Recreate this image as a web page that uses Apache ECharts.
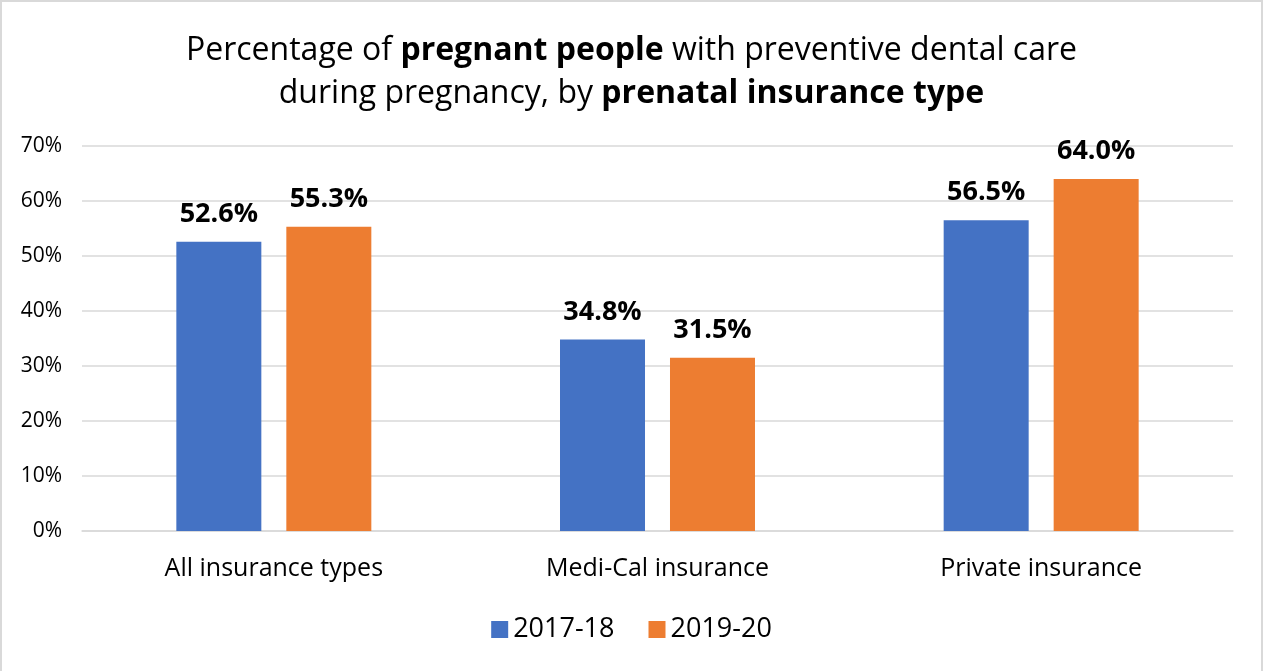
<!DOCTYPE html>
<html>
<head>
<meta charset="utf-8">
<script src="https://cdn.jsdelivr.net/npm/echarts@6/dist/echarts.min.js"></script>
<style>
html,body{margin:0;padding:0;background:#fff;}
#wrap{position:absolute;left:0;top:0;width:1259px;height:680px;border:2px solid #d9d9d9;box-sizing:content-box;}
#chart{width:1259px;height:680px;}
</style>
</head>
<body>
<div id="wrap"><div id="chart"></div></div>
<script>
const categories = ['All insurance types', 'Medi-Cal insurance', 'Private insurance'];
const seriesNames = ['2017-18', '2019-20'];
const values2017 = [52.6, 34.8, 56.5];
const values2019 = [55.3, 31.5, 64.0];
const yTicks = [0, 10, 20, 30, 40, 50, 60, 70];
const colors = ['#4472c4', '#ed7d31'];

const chart = echarts.init(document.getElementById('chart'), null, {renderer: 'canvas'});
const font = '"Open Sans", "Noto Sans", sans-serif';
const labelCfg = {
  show: true, position: 'top', distance: 14,
  formatter: p => p.value.toFixed(1) + '%',
  fontFamily: font, fontWeight: 'bold', fontSize: 27, color: '#000'
};
chart.setOption({
  animation: false,
  textStyle: {fontFamily: font},
  title: {
    text: 'Percentage of {b|pregnant people} with preventive dental care\nduring pregnancy, by {b|prenatal insurance type}',
    left: 'center', top: 22,
    textStyle: {
      fontFamily: font, fontSize: 32, fontWeight: 'normal', color: '#000', lineHeight: 43,
      rich: {b: {fontFamily: font, fontSize: 32, fontWeight: 'bold', color: '#000', lineHeight: 43}}
    }
  },
  legend: {
    data: seriesNames, bottom: 680 - 646, left: 'center',
    itemWidth: 17, itemHeight: 17, itemGap: 34, icon: 'rect',
    textStyle: {fontFamily: font, fontSize: 27, color: '#000'}
  },
  grid: {left: 80, right: 28, top: 144, bottom: 680 - 529, containLabel: false},
  xAxis: {
    type: 'category', data: categories,
    axisLine: {show: true, lineStyle: {color: '#d9d9d9', width: 1.5}},
    axisTick: {show: false},
    axisLabel: {fontFamily: font, fontSize: 25, color: '#000', margin: 25}
  },
  yAxis: {
    type: 'value', min: yTicks[0], max: yTicks[yTicks.length - 1], interval: 10,
    axisLine: {show: false}, axisTick: {show: false},
    splitLine: {lineStyle: {color: '#d9d9d9', width: 1.5}},
    axisLabel: {fontFamily: font, fontSize: 21, color: '#000', margin: 20, formatter: v => v + '%'}
  },
  series: [
    {name: seriesNames[0], type: 'bar', data: values2017, barWidth: 85, barGap: '29.4%', itemStyle: {color: colors[0]}, label: labelCfg},
    {name: seriesNames[1], type: 'bar', data: values2019, barWidth: 85, barGap: '29.4%', itemStyle: {color: colors[1]}, label: labelCfg}
  ]
});
</script>
</body>
</html>
